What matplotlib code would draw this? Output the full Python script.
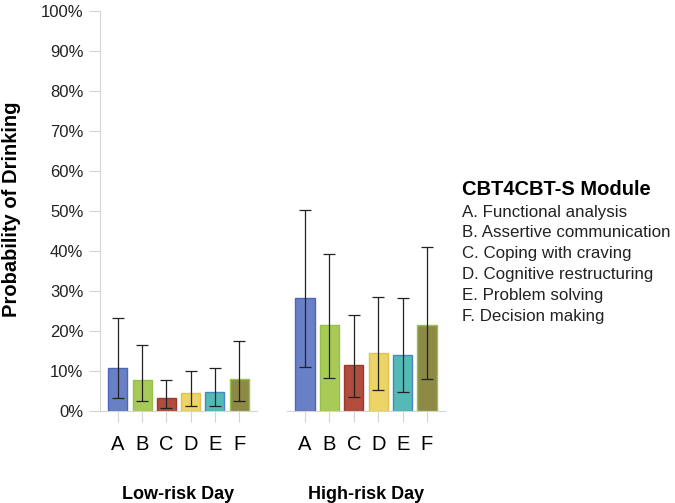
import numpy as np
import matplotlib.pyplot as plt
from matplotlib.ticker import PercentFormatter

plt.rcParams['font.family'] = ['Liberation Sans', 'DejaVu Sans']

modules = ['A', 'B', 'C', 'D', 'E', 'F']
module_names = ['A. Functional analysis', 'B. Assertive communication',
                'C. Coping with craving', 'D. Cognitive restructuring',
                'E. Problem solving', 'F. Decision making']
days = ['Low-risk Day', 'High-risk Day']

# probability of drinking (%) and 95% CI bounds
low_mean = [10.7, 7.7, 3.2, 4.4, 4.7, 7.9]
low_lo = [3.2, 2.5, 0.7, 1.2, 1.2, 2.6]
low_hi = [23.2, 16.4, 7.7, 10.0, 10.7, 17.4]
high_mean = [28.2, 21.5, 11.5, 14.4, 14.1, 21.6]
high_lo = [10.9, 8.2, 3.5, 5.2, 4.7, 8.1]
high_hi = [50.3, 39.2, 24.0, 28.5, 28.3, 41.0]

colors = ['#6a80c6', '#a8cb58', '#b24c3c', '#ecd466', '#55bab6', '#8d8a46']
edges = ['#4d67b8', '#97c04a', '#9a3a2c', '#e0c24e', '#4a86c4', '#97c24c']

W, H = 675, 503
fig = plt.figure(figsize=(W / 100, H / 100), dpi=100, facecolor='white')
bottom = (H - 411) / H
height = 400 / H
ax1 = fig.add_axes([100 / W, bottom, 157 / W, height])
ax2 = fig.add_axes([287 / W, bottom, 158 / W, height])

grey = '#d4d4d4'
x = np.arange(len(modules))
for ax, mean, lo, hi, day in [(ax1, low_mean, low_lo, low_hi, days[0]),
                              (ax2, high_mean, high_lo, high_hi, days[1])]:
    mean = np.array(mean)
    yerr = [mean - np.array(lo), np.array(hi) - mean]
    ax.bar(x, mean, width=0.79, color=colors, edgecolor=edges, linewidth=1, zorder=2)
    ax.errorbar(x, mean, yerr=yerr, fmt='none', ecolor='#222222', elinewidth=0.9,
                capsize=4.2, capthick=0.9, zorder=3)
    ax.set_xlim(-0.74, 5.74)
    ax.set_ylim(0, 100)
    ax.set_xticks(x)
    ax.set_xticklabels(modules, fontsize=14.5)
    ax.tick_params(axis='x', length=8, color=grey, pad=9)
    ax.set_xlabel(day, fontsize=13, fontweight='bold', labelpad=23)
    for s in ['top', 'right']:
        ax.spines[s].set_visible(False)
    ax.spines['bottom'].set_color(grey)
    ax.spines['left'].set_color(grey)

ax1.set_yticks(np.arange(0, 101, 10))
ax1.yaxis.set_major_formatter(PercentFormatter(decimals=0))
ax1.tick_params(axis='y', length=8, color=grey, labelsize=12, pad=4, labelcolor='#222222')
ax2.spines['left'].set_visible(False)
ax2.set_yticks([])

fig.text(12 / W, 1 - 209 / H, 'Probability of Drinking', fontsize=14.5,
         fontweight='bold', rotation=90, va='center', ha='center')

# legend text block
fig.text(462 / W, 1 - 190 / H, 'CBT4CBT-S Module', fontsize=14.5, fontweight='bold',
         va='center', ha='left')
for i, name in enumerate(module_names):
    fig.text(462 / W, 1 - (212 + i * 20.8) / H, name, fontsize=12.2,
             va='center', ha='left', color='#222222')

fig.savefig('out.png', dpi=100, facecolor='white')
